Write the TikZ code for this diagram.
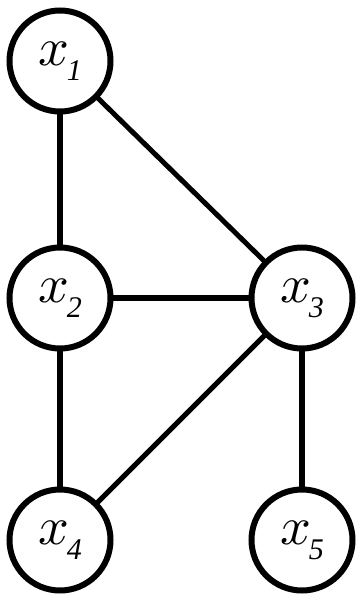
\documentclass[tikz,border=0pt]{standalone}
\usepackage{fontspec}
\usepackage{unicode-math}
\setmathfont{Latin Modern Math}
\newfontfamily\timit{Liberation Serif Italic}
\begin{document}
\begin{tikzpicture}[x=1pt,y=-1pt,
  vnode/.style={circle,draw=black,line width=6pt,minimum size=101pt,inner sep=0pt,outer sep=0pt,fill=white},
  edge/.style={line width=5.5pt,black},
  vedge/.style={line width=6.5pt,black},
  dedge/.style={line width=5pt,black}]
\useasboundingbox (0,0) rectangle (356,595);
\newcommand{\lbl}[1]{\fontsize{54}{54}\selectfont$x$\kern-2pt\raisebox{-15pt}{\timit\fontsize{30}{30}\selectfont #1}}
\node[vnode] (x1) at (60,61) {\lbl{1}};
\node[vnode] (x2) at (60,298) {\lbl{2}};
\node[vnode] (x3) at (302,298) {\lbl{3}};
\node[vnode] (x4) at (60,540) {\lbl{4}};
\node[vnode] (x5) at (302,540) {\lbl{5}};
\draw[vedge] (x1) -- (x2);
\draw[dedge] (x1) -- (x3);
\draw[edge] (x2) -- (x3);
\draw[vedge] (x2) -- (x4);
\draw[dedge] (x3) -- (x4);
\draw[vedge] (x3) -- (x5);
\end{tikzpicture}
\end{document}
